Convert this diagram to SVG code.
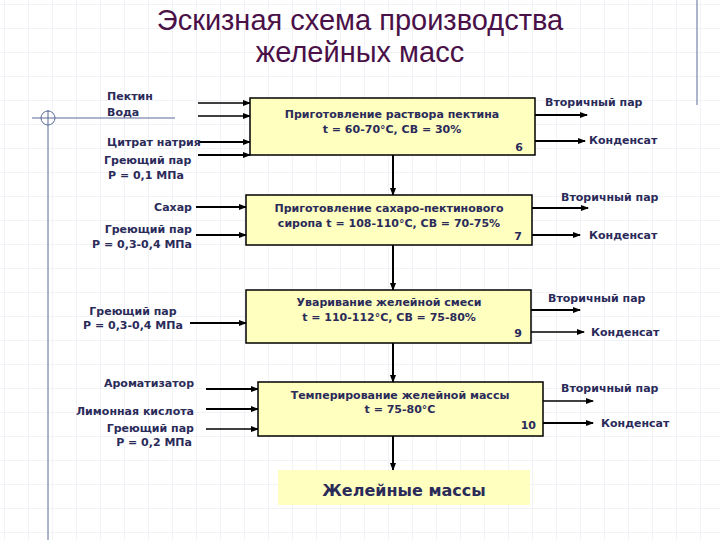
<svg xmlns="http://www.w3.org/2000/svg" width="720" height="540" viewBox="0 0 720 540">
<defs>
<pattern id="grid" width="24" height="24" patternUnits="userSpaceOnUse" x="4" y="4"><path d="M24 0H0V24" fill="none" stroke="#e3e7ef" stroke-width="1"/></pattern>
<marker id="ar" markerWidth="8" markerHeight="8" refX="7" refY="4" orient="auto" markerUnits="userSpaceOnUse"><path d="M0 1L8 4L0 7z" fill="#000"/></marker>
<style>
.box{fill:#ffffc0;stroke:#000;stroke-width:1.5}
.t{font-family:"DejaVu Sans",Verdana,sans-serif;font-size:11px;font-weight:bold;fill:#2b2b5a}
.l{stroke:#000;stroke-width:2;fill:none;marker-end:url(#ar)}
.l1{stroke:#000;stroke-width:1.3;fill:none;marker-end:url(#ar)}
</style>
</defs>
<rect width="720" height="540" fill="#fff"/>
<rect width="720" height="540" fill="url(#grid)"/>
<g id="deco" stroke="#5b6a9a" fill="none">
<line x1="32" y1="118" x2="175" y2="118"/><circle cx="48" cy="118" r="7"/><line x1="48" y1="110" x2="48" y2="540"/>
<line x1="697" y1="0" x2="697" y2="105"/>
</g>
<g id="title" font-family="'Liberation Sans',Arial,sans-serif" font-size="29" fill="#4a1048" text-anchor="middle">
<text x="360" y="30">Эскизная схема производства</text><text x="360" y="62">желейных масс</text>
</g>
<g id="connectors">
<line class="l1" x1="198" y1="103" x2="250" y2="103"/>
<line class="l1" x1="198" y1="116" x2="250" y2="116"/>
<line class="l" x1="198" y1="142" x2="250" y2="142"/>
<line class="l" x1="198" y1="155" x2="250" y2="155"/>
<line class="l" x1="535" y1="115" x2="587" y2="115"/>
<line class="l" x1="535" y1="141" x2="585" y2="141"/>
<line class="l" x1="393" y1="155" x2="393" y2="195"/>
<line class="l" x1="196" y1="207" x2="246" y2="207"/>
<line class="l" x1="196" y1="235" x2="246" y2="235"/>
<line class="l" x1="532" y1="208" x2="588" y2="208"/>
<line class="l" x1="530" y1="235" x2="580" y2="235"/>
<line class="l" x1="393" y1="245" x2="393" y2="290"/>
<line class="l" x1="190" y1="323" x2="246" y2="323"/>
<line class="l" x1="531" y1="310" x2="580" y2="310"/>
<line class="l1" x1="531" y1="332" x2="584" y2="332"/>
<line class="l" x1="393" y1="343" x2="393" y2="382"/>
<line class="l" x1="206" y1="389" x2="258" y2="389"/>
<line class="l" x1="206" y1="409" x2="258" y2="409"/>
<line class="l1" x1="206" y1="429" x2="258" y2="429"/>
<line class="l1" x1="543" y1="401" x2="593" y2="401"/>
<line class="l" x1="543" y1="423" x2="593" y2="423"/>
<line class="l" x1="393" y1="436" x2="393" y2="470"/>
</g>
<g id="n6"><rect class="box" x="250" y="98" width="285" height="57"/>
<text class="t" x="392" y="118" text-anchor="middle">Приготовление раствора пектина</text>
<text class="t" x="392" y="133" text-anchor="middle">t = 60-70°С, СВ = 30%</text>
<text class="t" x="523" y="151" text-anchor="end">6</text></g>
<g id="n7"><rect class="box" x="246" y="195" width="286" height="50"/>
<text class="t" x="389" y="212" text-anchor="middle">Приготовление сахаро-пектинового</text>
<text class="t" x="389" y="227" text-anchor="middle">сиропа t = 108-110°С, СВ = 70-75%</text>
<text class="t" x="522" y="240" text-anchor="end">7</text></g>
<g id="n9"><rect class="box" x="246" y="290" width="285" height="53"/>
<text class="t" x="389" y="306" text-anchor="middle">Уваривание желейной смеси</text>
<text class="t" x="389" y="321" text-anchor="middle">t = 110-112°С, СВ = 75-80%</text>
<text class="t" x="522" y="337" text-anchor="end">9</text></g>
<g id="n10"><rect class="box" x="258" y="382" width="285" height="54"/>
<text class="t" x="400" y="399" text-anchor="middle">Темперирование желейной массы</text>
<text class="t" x="400" y="413" text-anchor="middle">t = 75-80°С</text>
<text class="t" x="536" y="429" text-anchor="end">10</text></g>
<g id="out"><rect x="278" y="470" width="252" height="35" fill="#ffffc0"/>
<text x="404" y="496" text-anchor="middle" font-family="'DejaVu Sans',sans-serif" font-size="16" font-weight="bold" fill="#2b2b5a">Желейные массы</text></g>
<g id="labels" class="t">
<text class="t" x="107" y="100">Пектин</text>
<text class="t" x="107" y="116">Вода</text>
<text class="t" x="107" y="146">Цитрат натрия</text>
<text class="t" x="104" y="164">Греющий пар</text>
<text class="t" x="108" y="179">Р = 0,1 МПа</text>
<text class="t" x="192" y="211" text-anchor="end">Сахар</text>
<text class="t" x="192" y="233" text-anchor="end">Греющий пар</text>
<text class="t" x="192" y="248" text-anchor="end">Р = 0,3-0,4 МПа</text>
<text class="t" x="133" y="315" text-anchor="middle">Греющий пар</text>
<text class="t" x="133" y="329" text-anchor="middle">Р = 0,3-0,4 МПа</text>
<text class="t" x="194" y="387" text-anchor="end">Ароматизатор</text>
<text class="t" x="194" y="415" text-anchor="end">Лимонная кислота</text>
<text class="t" x="194" y="432" text-anchor="end">Греющий пар</text>
<text class="t" x="192" y="446" text-anchor="end">Р = 0,2 МПа</text>
<text class="t" x="545" y="106">Вторичный пар</text>
<text class="t" x="589" y="144">Конденсат</text>
<text class="t" x="561" y="201">Вторичный пар</text>
<text class="t" x="589" y="239">Конденсат</text>
<text class="t" x="548" y="302">Вторичный пар</text>
<text class="t" x="591" y="336">Конденсат</text>
<text class="t" x="561" y="392">Вторичный пар</text>
<text class="t" x="601" y="427">Конденсат</text>
</g>
</svg>
